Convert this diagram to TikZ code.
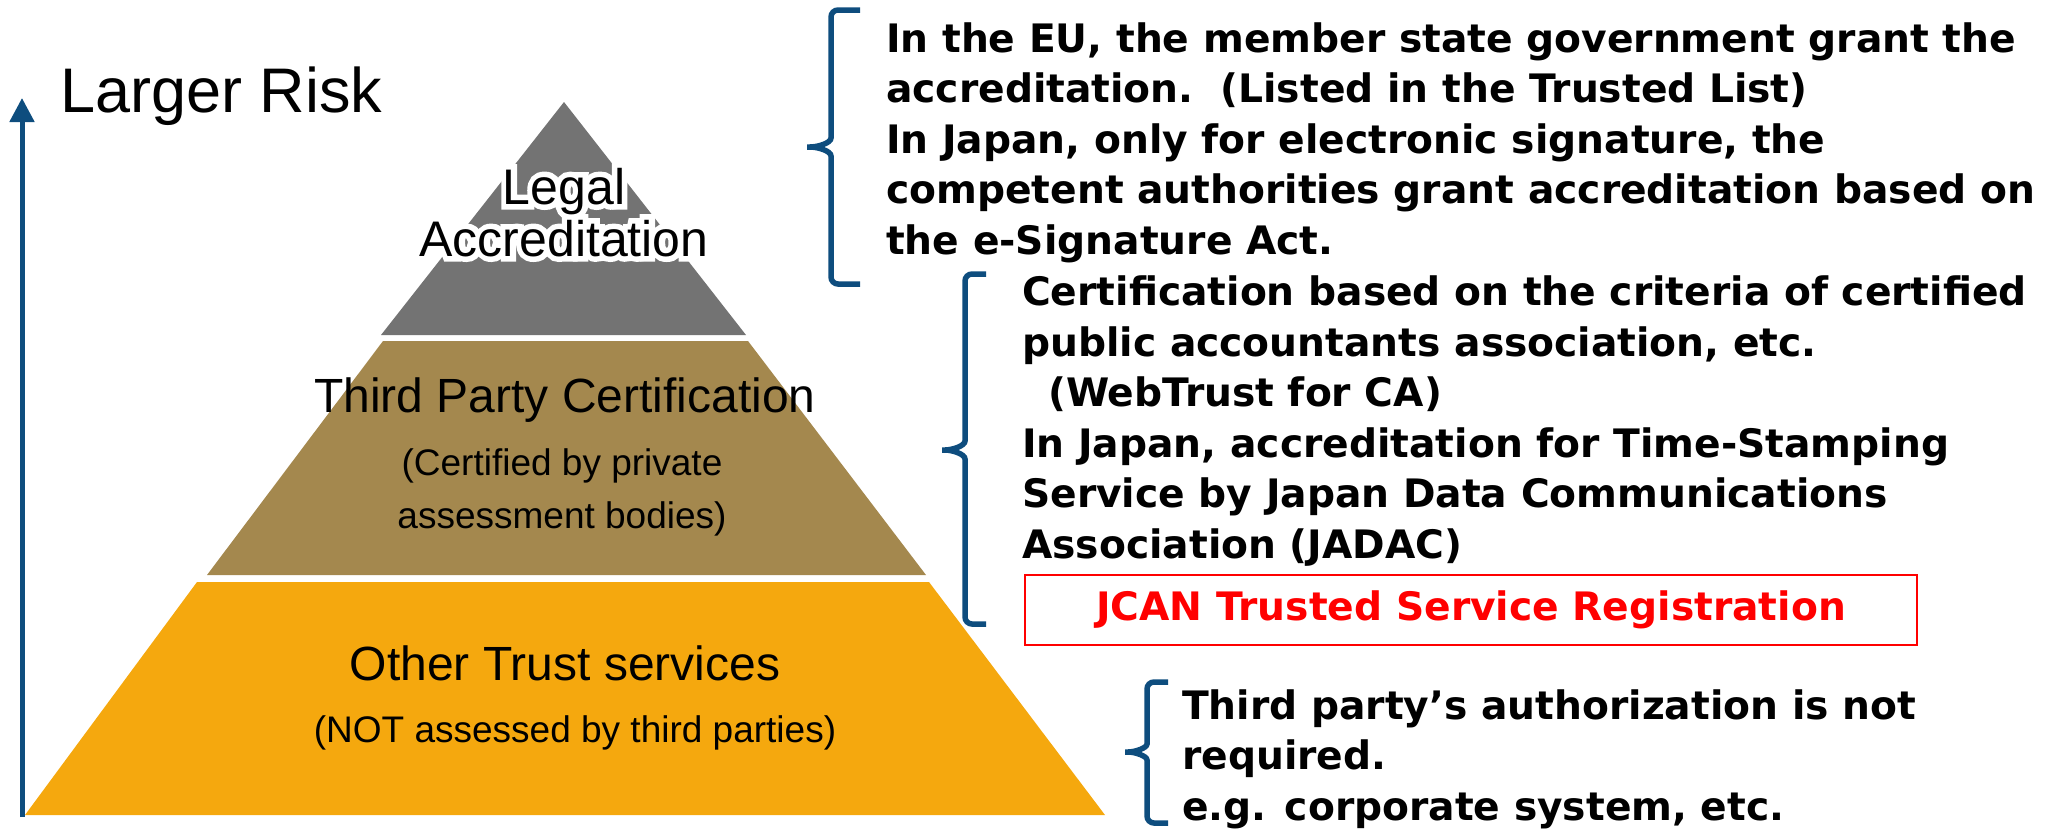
\documentclass[tikz,border=0pt]{standalone}
\usepackage{fontspec}
\setmainfont{Liberation Sans}
\newfontfamily\dvs{DejaVu Sans}
\newfontfamily\halofont[FakeBold=22]{Liberation Sans}
\usetikzlibrary{arrows.meta,calc}
\definecolor{pgray}{HTML}{737373}
\definecolor{pbrown}{HTML}{A4884E}
\definecolor{porange}{HTML}{F5A80E}
\definecolor{bblue}{HTML}{0E4D7E}
\definecolor{jred}{HTML}{FF0000}
\begin{document}
\begin{tikzpicture}[x=1pt,y=-1pt,
  brace/.style={draw=bblue, line width=5.5pt, rounded corners=7pt},
  note/.style={font=\dvs\bfseries\fontsize{39.2}{50.5}\selectfont, align=left, inner sep=0pt, anchor=base west},
  tier/.style={font=\fontsize{48}{52}\selectfont, inner sep=0pt, anchor=base},
  sub/.style={font=\fontsize{37}{53}\selectfont, inner sep=0pt, align=center, anchor=base},
  legaltxt/.style={font=\fontsize{50}{52}\selectfont, inner sep=0pt, align=center, anchor=base},
]
\useasboundingbox (0,0) rectangle (2057,830);
% pyramid
\fill[pgray] (564,102) -- (746,335) -- (381,335) -- cycle;
\fill[pbrown] (383,341) -- (748,341) -- (926,575) -- (207,575) -- cycle;
\fill[porange] (197,582) -- (929,582) -- (1105,815) -- (25,815) -- cycle;
% risk arrow
\coordinate (abot) at (22,817);
\coordinate (atop) at (22,98);
\draw[bblue, line width=5pt, -{Triangle[width=24pt,length=24pt]}] (abot) -- (atop);
\node[font=\fontsize{63}{70}\selectfont, anchor=base west, inner sep=0pt] (risk) at (60,112) {Larger Risk};
% legal accreditation (black text with white outline)
\coordinate (legalc) at (564,256);
\node[legaltxt, font=\halofont\fontsize{50}{52}\selectfont, text=white] (legalhalo) at (legalc) {Legal\\Accreditation};
\node[legaltxt] (legal) at (legalc) {Legal\\Accreditation};
% other tiers
\node[tier] (tpc) at (565,412) {Third Party Certification};
\node[sub] (tpcs) at (562,528) {(Certified by private\\assessment bodies)};
\node[tier] (ots) at (565,680) {Other Trust services};
\node[sub] (otss) at (575,742) {(NOT assessed by third parties)};
% braces
\draw[brace] (860,10) -- (831,10) -- (831,131) .. controls (831,143) and (818,147) .. (803,147) .. controls (818,147) and (831,151) .. (831,163) -- (831,284) -- (860,284);
\draw[brace] (986,274) -- (965,274) -- (965,434) .. controls (965,446) and (952,450) .. (938,450) .. controls (952,450) and (965,454) .. (965,466) -- (965,624) -- (986,624);
\draw[brace] (1168,682) -- (1147,682) -- (1147,737) .. controls (1147,748) and (1135,752) .. (1121,752) .. controls (1135,752) and (1147,756) .. (1147,767) -- (1147,823) -- (1168,823);
% notes
\node[note] (n1) at (886,254) {In the EU, the member state government grant the\\accreditation.\hspace{27pt}(Listed in the Trusted List)\\In Japan, only for electronic signature, the\\competent authorities grant accreditation based on\\the e-Signature Act.};
\node[note] (n2) at (1022,558) {Certification based on the criteria of certified\\public accountants association, etc.\\\hspace{26pt}(WebTrust for CA)\\In Japan, accreditation for Time-Stamping\\Service by Japan Data Communications\\Association (JADAC)};
\node[draw=jred, line width=2pt, minimum width=892pt, minimum height=70pt, inner sep=0pt, text=jred, font=\dvs\bfseries\fontsize{39.2}{45}\selectfont] (jcan) at (1471,610) {JCAN Trusted Service Registration};
\node[note] (n3) at (1182,820) {Third party’s authorization is not\\required.\\e.g. corporate system, etc.};
\end{tikzpicture}
\end{document}
